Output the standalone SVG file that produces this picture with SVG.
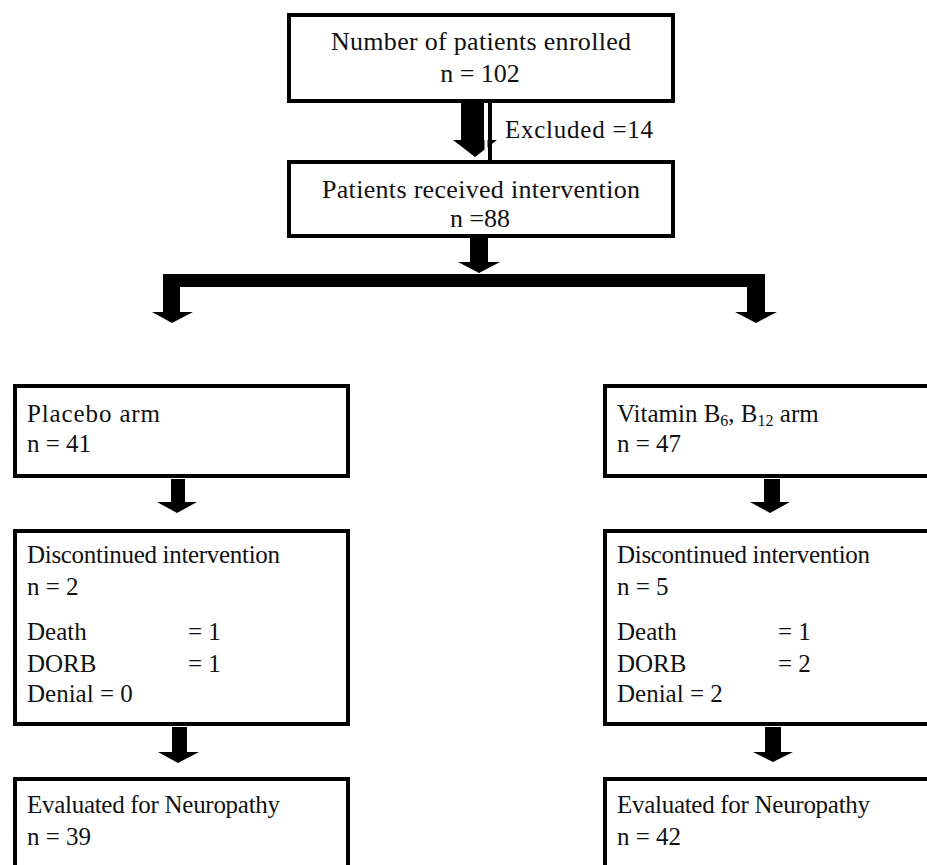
<svg xmlns="http://www.w3.org/2000/svg" width="927" height="865" viewBox="0 0 927 865">
<style>
.box{fill:#fff;stroke:#000;stroke-width:4}
.t{font-family:"Liberation Serif","Times New Roman",serif;fill:#111}
.c{font-size:26px;text-anchor:middle}
.l{font-size:25px}
.arr{fill:#000}
</style>
<rect width="927" height="865" fill="#fff"/>
<g id="connectors">
  <polygon class="arr" points="461,103 484,103 484,140 497,140 475,157 453,140 461,140"/>
  <rect x="484.5" y="103" width="3" height="55" fill="#fff"/>
  <rect x="488" y="103" width="4" height="57" fill="#000"/>
  <polygon class="arr" points="470,237 488,237 488,262 500,262 479,273 458,262 470,262"/>
  <polygon class="arr" points="163,274 765,274 765,312 777,312 756,323 735,312 747,312 747,287 180,287 180,312 193,312 172,323 152,312 163,312"/>
  <polygon class="arr" points="171,479 185,479 185,502 197,502 177,513 157,502 171,502"/>
  <polygon class="arr" points="764,479 780,479 780,502 790,502 770,513 750,502 764,502"/>
  <polygon class="arr" points="172,727 187,727 187,752 199,752 178,763 158,752 172,752"/>
  <polygon class="arr" points="765,727 781,727 781,752 793,752 773,762 753,752 765,752"/>
</g>
<g id="enrolled">
  <rect class="box" x="289" y="15" width="384" height="86"/>
  <text class="t c" x="481" y="50" textLength="300">Number of patients enrolled</text>
  <text class="t c" x="480" y="82">n = 102</text>
</g>
<g id="excluded">
  <text class="t" x="505" y="138" font-size="25" textLength="148">Excluded =14</text>
</g>
<g id="intervention">
  <rect class="box" x="289" y="162" width="384" height="74"/>
  <text class="t c" x="481" y="198" textLength="318">Patients received intervention</text>
  <text class="t c" x="480" y="227">n =88</text>
</g>
<g id="placebo">
  <rect class="box" x="15" y="386" width="333" height="90"/>
  <text class="t l" x="27" y="422" textLength="133">Placebo arm</text>
  <text class="t l" x="27" y="452">n = 41</text>
</g>
<g id="vitamin">
  <rect class="box" x="605" y="386" width="340" height="90"/>
  <text class="t l" x="617" y="422">Vitamin B<tspan font-size="16" dy="4">6</tspan><tspan dy="-4">, B</tspan><tspan font-size="16" dy="4">12</tspan><tspan dy="-4"> arm</tspan></text>
  <text class="t l" x="617" y="452">n = 47</text>
</g>
<g id="placebo-discontinued">
  <rect class="box" x="15" y="531" width="333" height="193"/>
  <text class="t l" x="27" y="563" textLength="253">Discontinued intervention</text>
  <text class="t l" x="27" y="595">n = 2</text>
  <text class="t l" x="27" y="640">Death</text>
  <text class="t l" x="188" y="640">= 1</text>
  <text class="t l" x="27" y="672">DORB</text>
  <text class="t l" x="188" y="672">= 1</text>
  <text class="t l" x="27" y="702">Denial  = 0</text>
</g>
<g id="vitamin-discontinued">
  <rect class="box" x="605" y="531" width="340" height="193"/>
  <text class="t l" x="617" y="563" textLength="253">Discontinued intervention</text>
  <text class="t l" x="617" y="595">n = 5</text>
  <text class="t l" x="617" y="640">Death</text>
  <text class="t l" x="778" y="640">= 1</text>
  <text class="t l" x="617" y="672">DORB</text>
  <text class="t l" x="778" y="672">= 2</text>
  <text class="t l" x="617" y="702">Denial  = 2</text>
</g>
<g id="placebo-evaluated">
  <rect class="box" x="15" y="779" width="333" height="120"/>
  <text class="t l" x="27" y="813" textLength="253">Evaluated for Neuropathy</text>
  <text class="t l" x="27" y="845">n = 39</text>
</g>
<g id="vitamin-evaluated">
  <rect class="box" x="605" y="779" width="340" height="120"/>
  <text class="t l" x="617" y="813" textLength="253">Evaluated for Neuropathy</text>
  <text class="t l" x="617" y="845">n = 42</text>
</g>
</svg>
